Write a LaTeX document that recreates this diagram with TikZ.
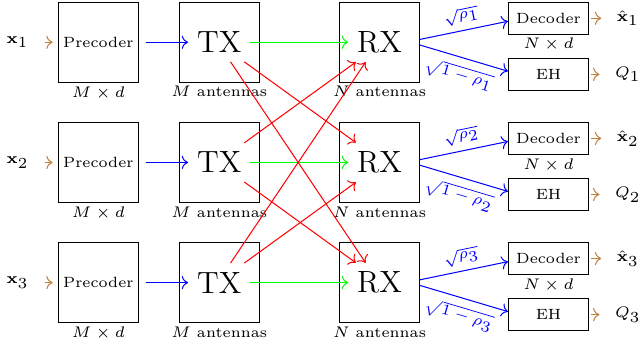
\documentclass[tikz,border=0pt]{standalone}
\usepackage{amsmath}
\usepackage{amssymb}
\usetikzlibrary{arrows.meta, positioning}
\DeclareMathSizes{5.8}{5.8}{5.8}{5.8}

\begin{document}
\begin{tikzpicture}[
        font=\fontsize{5.8}{7}\selectfont,
        every node/.style={align=center},
        blk/.style={rectangle, draw, minimum width=1.10cm, minimum height=1.10cm,
                    inner sep=0pt},
        sblk/.style={rectangle, draw, minimum width=1.10cm, minimum height=0.44cm,
                     inner sep=0pt},
        antlbl/.style={font=\large},
        dimlbl/.style={anchor=north, inner sep=1.2pt},
        inarrow/.style={->, brown, shorten <=3pt, shorten >=2pt},
        outarrow/.style={->, brown, shorten <=0.8pt, shorten >=2.6pt},
        sigarrow/.style={->, blue},
        losarrow/.style={->, green},
        xarrow/.style={->, red},
        gainlbl/.style={text=blue, sloped, inner sep=1pt}
    ]
        \useasboundingbox (0, 0.58) rectangle (8.80, -4.19);

        % --- Row 1 ---
        \node (xin1) at (0.24, 0) {$\mathbf{x}_1$};
        \node[blk] (pre1) at (1.35, 0) {Precoder};
        \node[dimlbl] (dpre1) at (pre1.south) {$M \times d$};
        \node[blk] (tx1) at (3.01, 0) {};
        \node[antlbl] (txt1) at (tx1) {TX};
        \node[dimlbl] (dtx1) at (tx1.south) {$M$ antennas};
        \node[blk] (rx1) at (5.21, 0) {};
        \node[antlbl] (rxt1) at (rx1) {RX};
        \node[dimlbl] (drx1) at (rx1.south) {$N$ antennas};
        \node[sblk] (dec1) at (7.53, 0.33) {Decoder};
        \node[dimlbl] (ddec1) at (dec1.south) {$N \times d$};
        \node[sblk] (eh1) at (7.53, -0.44) {EH};
        \node (xout1) at (8.62, 0.33) {$\hat{\mathbf{x}}_1$};
        \node (q1) at (8.62, -0.44) {$Q_1$};

        % --- Row 2 ---
        \node (xin2) at (0.24, -1.65) {$\mathbf{x}_2$};
        \node[blk] (pre2) at (1.35, -1.65) {Precoder};
        \node[dimlbl] (dpre2) at (pre2.south) {$M \times d$};
        \node[blk] (tx2) at (3.01, -1.65) {};
        \node[antlbl] (txt2) at (tx2) {TX};
        \node[dimlbl] (dtx2) at (tx2.south) {$M$ antennas};
        \node[blk] (rx2) at (5.21, -1.65) {};
        \node[antlbl] (rxt2) at (rx2) {RX};
        \node[dimlbl] (drx2) at (rx2.south) {$N$ antennas};
        \node[sblk] (dec2) at (7.53, -1.32) {Decoder};
        \node[dimlbl] (ddec2) at (dec2.south) {$N \times d$};
        \node[sblk] (eh2) at (7.53, -2.09) {EH};
        \node (xout2) at (8.62, -1.32) {$\hat{\mathbf{x}}_2$};
        \node (q2) at (8.62, -2.09) {$Q_2$};

        % --- Row 3 ---
        \node (xin3) at (0.24, -3.30) {$\mathbf{x}_3$};
        \node[blk] (pre3) at (1.35, -3.30) {Precoder};
        \node[dimlbl] (dpre3) at (pre3.south) {$M \times d$};
        \node[blk] (tx3) at (3.01, -3.30) {};
        \node[antlbl] (txt3) at (tx3) {TX};
        \node[dimlbl] (dtx3) at (tx3.south) {$M$ antennas};
        \node[blk] (rx3) at (5.21, -3.30) {};
        \node[antlbl] (rxt3) at (rx3) {RX};
        \node[dimlbl] (drx3) at (rx3.south) {$N$ antennas};
        \node[sblk] (dec3) at (7.53, -2.97) {Decoder};
        \node[dimlbl] (ddec3) at (dec3.south) {$N \times d$};
        \node[sblk] (eh3) at (7.53, -3.74) {EH};
        \node (xout3) at (8.62, -2.97) {$\hat{\mathbf{x}}_3$};
        \node (q3) at (8.62, -3.74) {$Q_3$};

        % --- Links per row ---
        \draw[inarrow] (xin1) -- (pre1);
        \draw[sigarrow, shorten <=2.6pt] (pre1) -- (txt1);
        \draw[losarrow] (txt1) -- (rxt1);
        \draw[sigarrow] (rx1.4) -- node[gainlbl, above=1.2pt] {$\sqrt{\rho_1}$}
            ([yshift=-1.2pt]dec1.west);
        \draw[sigarrow] (rx1.-4) -- node[gainlbl, below=2pt] {$\sqrt{1-\rho_1}$}
            ([yshift=1.2pt]eh1.west);
        \draw[outarrow] (dec1) -- (xout1);
        \draw[outarrow] (eh1) -- (q1);

        \draw[inarrow] (xin2) -- (pre2);
        \draw[sigarrow, shorten <=2.6pt] (pre2) -- (txt2);
        \draw[losarrow] (txt2) -- (rxt2);
        \draw[sigarrow] (rx2.4) -- node[gainlbl, above=1.2pt] {$\sqrt{\rho_2}$}
            ([yshift=-1.2pt]dec2.west);
        \draw[sigarrow] (rx2.-4) -- node[gainlbl, below=2pt] {$\sqrt{1-\rho_2}$}
            ([yshift=1.2pt]eh2.west);
        \draw[outarrow] (dec2) -- (xout2);
        \draw[outarrow] (eh2) -- (q2);

        \draw[inarrow] (xin3) -- (pre3);
        \draw[sigarrow, shorten <=2.6pt] (pre3) -- (txt3);
        \draw[losarrow] (txt3) -- (rxt3);
        \draw[sigarrow] (rx3.4) -- node[gainlbl, above=1.2pt] {$\sqrt{\rho_3}$}
            ([yshift=-1.2pt]dec3.west);
        \draw[sigarrow] (rx3.-4) -- node[gainlbl, below=2pt] {$\sqrt{1-\rho_3}$}
            ([yshift=1.2pt]eh3.west);
        \draw[outarrow] (dec3) -- (xout3);
        \draw[outarrow] (eh3) -- (q3);

        % --- Interference ---
        \draw[xarrow] (txt1.-60) -- (rxt3.125);
        \draw[xarrow] (txt1.-38) -- (rxt2.140);
        \draw[xarrow] (txt2.38) -- (rxt1.-140);
        \draw[xarrow] (txt2.-38) -- (rxt3.140);
        \draw[xarrow] (txt3.60) -- (rxt1.-125);
        \draw[xarrow] (txt3.38) -- (rxt2.-140);
    \end{tikzpicture}
\end{document}
